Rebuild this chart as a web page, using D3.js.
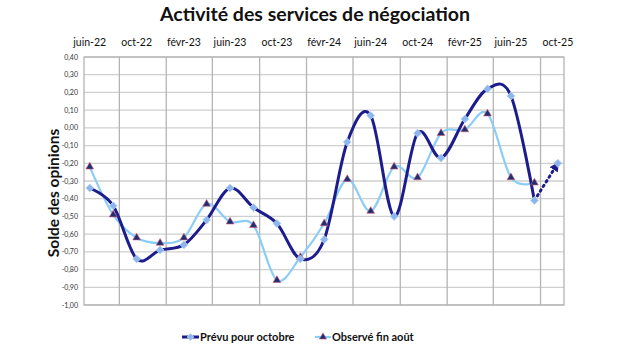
<!DOCTYPE html>
<html>
<head>
<meta charset="utf-8">
<script src="https://cdn.jsdelivr.net/npm/d3@7/dist/d3.min.js"></script>
<style>
  body { margin: 0; background: #fff; }
  svg text { font-family: Lato, "Open Sans", sans-serif; }
</style>
</head>
<body>
<svg id="chart" width="630" height="350"></svg>
<script>
// dates of the points (one every two months)
var dates = ["2022-06", "2022-08", "2022-10", "2022-12", "2023-02", "2023-04",
  "2023-06", "2023-08", "2023-10", "2023-12", "2024-02", "2024-04",
  "2024-06", "2024-08", "2024-10", "2024-12", "2025-02", "2025-04",
  "2025-06", "2025-08", "2025-10"];

// Prévu pour octobre (the last point is the forecast, drawn dotted)
var prevu = [-0.34, -0.44, -0.74, -0.69, -0.66, -0.52, -0.34, -0.45, -0.54,
  -0.74, -0.63, -0.08, 0.07, -0.50, -0.03, -0.17, 0.05, 0.22, 0.18, -0.41, -0.20];

// Observé fin août
var observe = [-0.22, -0.49, -0.62, -0.65, -0.62, -0.43, -0.53, -0.55, -0.86,
  -0.73, -0.54, -0.29, -0.47, -0.22, -0.28, -0.03, -0.01, 0.08, -0.28, -0.31];

var top_labels = ["juin-22", "oct-22", "févr-23", "juin-23", "oct-23", "févr-24",
  "juin-24", "oct-24", "févr-25", "juin-25", "oct-25"];

var y_ticks = [0.4, 0.3, 0.2, 0.1, 0, -0.1, -0.2, -0.3, -0.4, -0.5, -0.6, -0.7, -0.8, -0.9, -1.0];

var dark = "#1c1c8c";
var light = "#8ccdf6";

// plot area (note: "top" is taken by window.top)
var plot_left = 84, plot_right = 564, plot_top = 57, plot_bottom = 305;

var svg = d3.select("#chart");

var parse = d3.timeParse("%Y-%m");
// points sit in the middle of their month
var mid = function(s) { return d3.timeDay.offset(parse(s), 15); };

var x = d3.scaleTime()
  .domain([parse("2022-06"), parse("2025-11")])
  .range([plot_left, plot_right]);
var y = d3.scaleLinear().domain([-1.0, 0.4]).range([plot_bottom, plot_top]);

// title
svg.append("text").attr("x", 315).attr("y", 21).attr("text-anchor", "middle")
  .style("font-size", "19.5px").style("font-weight", "bold").attr("fill", "#111")
  .text("Activité des services de négociation");

// horizontal grid
svg.append("g").selectAll("line").data(y_ticks).enter().append("line")
  .attr("x1", plot_left).attr("x2", plot_right)
  .attr("y1", function(d) { return y(d); }).attr("y2", function(d) { return y(d); })
  .attr("stroke", "#cfcfcf").attr("stroke-width", 1.3);

// vertical grid, every 4 months
var grid_months = d3.timeMonth.every(4).range(parse("2022-06"), parse("2025-11"));
svg.append("g").selectAll("line").data(grid_months).enter().append("line")
  .attr("x1", function(d) { return x(d); }).attr("x2", function(d) { return x(d); })
  .attr("y1", plot_top).attr("y2", plot_bottom)
  .attr("stroke", "#b4b4b4").attr("stroke-width", 1.3);

// frame
svg.append("rect").attr("x", plot_left).attr("y", plot_top)
  .attr("width", plot_right - plot_left).attr("height", plot_bottom - plot_top)
  .attr("fill", "none").attr("stroke", "#b4b4b4").attr("stroke-width", 1.3);

// y axis labels
var fmt = function(d) { return d3.format(".2f")(d).replace(".", ",").replace("−", "-"); };
svg.append("g").selectAll("text").data(y_ticks).enter().append("text")
  .attr("x", plot_left - 6).attr("y", function(d) { return y(d) + 2.5; })
  .attr("text-anchor", "end").style("font-size", "7px").attr("fill", "#333")
  .text(fmt);

// month labels across the top
var label_dates = dates.filter(function(d, i) { return i % 2 === 0; });
svg.append("g").selectAll("text").data(top_labels).enter().append("text")
  .attr("x", function(d, i) { return x(mid(label_dates[i])); })
  .attr("y", 46).attr("text-anchor", "middle")
  .style("font-size", "10.5px").attr("fill", "#111")
  .text(function(d) { return d; });

// y title
svg.append("text")
  .attr("transform", "translate(59,193) rotate(-90)")
  .attr("text-anchor", "middle").style("font-size", "15.5px").style("font-weight", "bold")
  .attr("fill", "#111").text("Solde des opinions");

var line = d3.line()
  .x(function(d) { return x(mid(d.date)); })
  .y(function(d) { return y(d.v); })
  .curve(d3.curveCardinal.tension(0));

var prevu_pts = prevu.map(function(v, i) { return {date: dates[i], v: v}; });
var observe_pts = observe.map(function(v, i) { return {date: dates[i], v: v}; });
var prevu_solid = prevu_pts.slice(0, prevu_pts.length - 1);
var prevu_fore = prevu_pts.slice(prevu_pts.length - 2);

// arrow head for the forecast
svg.append("defs").append("marker")
  .attr("id", "arrow").attr("viewBox", "0 0 10 10")
  .attr("refX", 8).attr("refY", 5)
  .attr("markerWidth", 3.2).attr("markerHeight", 3.2)
  .attr("orient", "auto")
  .append("path").attr("d", "M0,0 L10,5 L0,10 z").attr("fill", dark);

svg.append("path").datum(observe_pts).attr("d", line)
  .attr("fill", "none").attr("stroke", light).attr("stroke-width", 2.2);

svg.append("path").datum(prevu_solid).attr("d", line)
  .attr("fill", "none").attr("stroke", dark).attr("stroke-width", 3);

svg.append("path").datum(prevu_fore).attr("d", d3.line()
    .x(function(d) { return x(mid(d.date)); })
    .y(function(d) { return y(d.v); }))
  .attr("fill", "none").attr("stroke", dark).attr("stroke-width", 3)
  .attr("stroke-dasharray", "1.5,4").attr("stroke-linecap", "round")
  .attr("marker-end", "url(#arrow)");

// triangles
var tri = d3.symbol().type(d3.symbolTriangle).size(26);
svg.append("g").selectAll("path").data(observe_pts).enter().append("path")
  .attr("d", tri)
  .attr("transform", function(d) { return "translate(" + x(mid(d.date)) + "," + y(d.v) + ")"; })
  .attr("fill", "#1f3070").attr("stroke", "#d05a78").attr("stroke-width", 0.6);

// diamonds
var dia = d3.symbol().type(d3.symbolDiamond2).size(40);
svg.append("g").selectAll("path").data(prevu_pts).enter().append("path")
  .attr("d", dia)
  .attr("transform", function(d) { return "translate(" + x(mid(d.date)) + "," + y(d.v) + ")"; })
  .attr("fill", "#8db6ec").attr("stroke", "#b4d0f4").attr("stroke-width", 0.8);

// legend
var lg = svg.append("g");
lg.append("line").attr("x1", 182).attr("x2", 199).attr("y1", 337).attr("y2", 337)
  .attr("stroke", dark).attr("stroke-width", 3);
lg.append("path").attr("d", d3.symbol().type(d3.symbolDiamond2).size(30))
  .attr("transform", "translate(190.5,337)")
  .attr("fill", "#8db6ec").attr("stroke", "#b4d0f4").attr("stroke-width", 0.8);
lg.append("text").attr("x", 200).attr("y", 341)
  .style("font-size", "11px").style("font-weight", "bold").attr("fill", "#111")
  .text("Prévu pour octobre");

lg.append("line").attr("x1", 315).attr("x2", 331).attr("y1", 337).attr("y2", 337)
  .attr("stroke", light).attr("stroke-width", 2.2);
lg.append("path").attr("d", d3.symbol().type(d3.symbolTriangle).size(22))
  .attr("transform", "translate(323,337)")
  .attr("fill", "#1f3070").attr("stroke", "#d05a78").attr("stroke-width", 0.6);
lg.append("text").attr("x", 332).attr("y", 341)
  .style("font-size", "11px").style("font-weight", "bold").attr("fill", "#111")
  .text("Observé fin août");
</script>
</body>
</html>
